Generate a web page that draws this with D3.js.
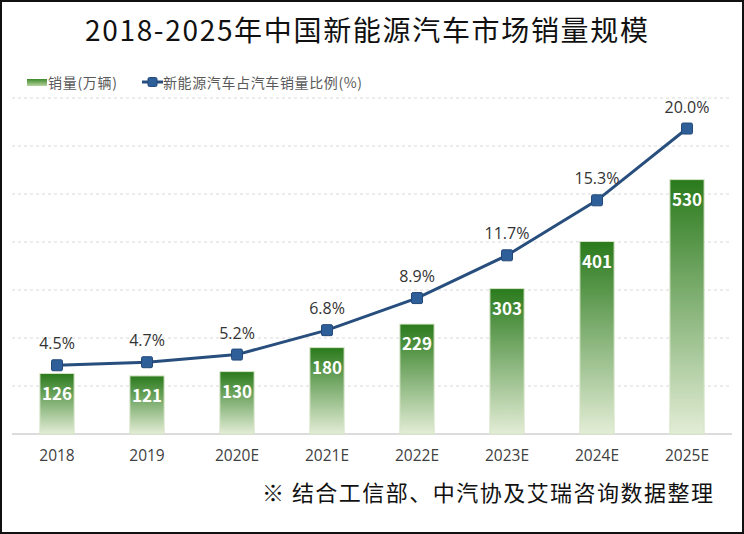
<!DOCTYPE html>
<html><head><meta charset="utf-8">
<script src="https://cdn.jsdelivr.net/npm/d3@7"></script>
<style>body{margin:0;background:#fff;}svg{display:block;}</style>
</head><body>
<svg id="c" width="744" height="534"></svg>
<script>
const categories = ["2018","2019","2020E","2021E","2022E","2023E","2024E","2025E"];
const sales = [126,121,130,180,229,303,401,530];
const share = [4.5,4.7,5.2,6.8,8.9,11.7,15.3,20.0];
const salesTicks = [0,100,200,300,400,500,600,700];
const titleText = "2018-2025年中国新能源汽车市场销量规模";
const legendBar = "销量(万辆)";
const legendLine = "新能源汽车占汽车销量比例(%)";
const sourceText = "※ 结合工信部、中汽协及艾瑞咨询数据整理";

(function(){
const font = "'Noto Sans CJK SC','Noto Sans',sans-serif";
const latin = "'Open Sans','Noto Sans CJK SC',sans-serif";
const svg = d3.select("#c");
const W = 744, H = 534;
const pLeft = 12, pRight = 732, pTop = 98, pBottom = 434;

svg.append("rect").attr("x",1).attr("y",1).attr("width",W-2).attr("height",H-2)
  .attr("fill","#fff").attr("stroke","#111").attr("stroke-width",2);

const defs = svg.append("defs");
const g1 = defs.append("linearGradient").attr("id","bg").attr("x1",0).attr("y1",0).attr("x2",0).attr("y2",1);
g1.append("stop").attr("offset","0%").attr("stop-color","#2a7a1c");
g1.append("stop").attr("offset","100%").attr("stop-color","#e3edd6");
const g2 = defs.append("linearGradient").attr("id","lg").attr("x1",0).attr("y1",0).attr("x2",0).attr("y2",1);
g2.append("stop").attr("offset","0%").attr("stop-color","#3d8a2c");
g2.append("stop").attr("offset","100%").attr("stop-color","#b8d3a0");

const x = d3.scaleBand().domain(categories).range([pLeft,pRight]).paddingInner(0.62).paddingOuter(0.31);
const y = d3.scaleLinear().domain([0,700]).range([pBottom,pTop]);
const y2 = d3.scaleLinear().domain([0,22]).range([pBottom,pTop]);

// gridlines
svg.append("g").selectAll("line").data(salesTicks.slice(1)).join("line")
  .attr("x1",pLeft).attr("x2",pRight).attr("y1",d=>y(d)).attr("y2",d=>y(d))
  .attr("stroke","#d9d9d9").attr("stroke-width",1).attr("stroke-dasharray","3,3");

// x axis
const xAxis = d3.axisBottom(x).tickSize(0).tickPadding(16);
const xa = svg.append("g").attr("transform",`translate(0,${pBottom})`).call(xAxis);
xa.select(".domain").attr("stroke","#d0d0d0").attr("stroke-width",1.5)
  .attr("d",`M${pLeft},0H${pRight}`);
xa.selectAll("text").attr("font-family",latin).attr("font-size",15.5).attr("fill","#404040");

// bars
svg.append("g").selectAll("rect").data(sales).join("rect")
  .attr("x",(d,i)=>x(categories[i])).attr("width",x.bandwidth())
  .attr("y",d=>y(d)).attr("height",d=>pBottom-y(d))
  .attr("fill","url(#bg)").attr("stroke","#d6e4c6").attr("stroke-width",1);

svg.append("g").selectAll("text").data(sales).join("text")
  .attr("x",(d,i)=>x(categories[i])+x.bandwidth()/2).attr("y",d=>y(d)+26)
  .attr("text-anchor","middle").attr("font-family",font).attr("font-weight","bold")
  .attr("font-size",17).attr("fill","#fff").text(d=>d);

// line
const cx = (i)=>x(categories[i])+x.bandwidth()/2;
const line = d3.line().x((d,i)=>cx(i)).y(d=>y2(d));
svg.append("path").datum(share).attr("d",line).attr("fill","none")
  .attr("stroke","#274e7d").attr("stroke-width",3);
svg.append("g").selectAll("rect").data(share).join("rect")
  .attr("x",(d,i)=>cx(i)-5.5).attr("y",d=>y2(d)-5.5).attr("width",11).attr("height",11)
  .attr("rx",1.5).attr("fill","#2f5f98").attr("stroke","#23497a").attr("stroke-width",1);
svg.append("g").selectAll("text").data(share).join("text")
  .attr("x",(d,i)=>cx(i)).attr("y",d=>y2(d)-16)
  .attr("text-anchor","middle").attr("font-family",latin)
  .attr("font-size",16).attr("fill","#333").text(d=>d.toFixed(1)+"%");

// title
svg.append("text").attr("x",85).attr("y",41)
  .attr("font-family",font).attr("font-size",28).attr("fill","#111")
  .attr("textLength",563).attr("lengthAdjust","spacing").text(titleText);

// legend
svg.append("rect").attr("x",27).attr("y",79).attr("width",20).attr("height",7).attr("fill","url(#lg)");
svg.append("text").attr("x",48).attr("y",87.5).attr("font-family",font).attr("font-size",14)
  .attr("fill","#595959").attr("textLength",69).attr("lengthAdjust","spacing").text(legendBar);
svg.append("line").attr("x1",142).attr("x2",163).attr("y1",82).attr("y2",82)
  .attr("stroke","#274e7d").attr("stroke-width",3);
svg.append("rect").attr("x",148).attr("y",77.5).attr("width",9).attr("height",9).attr("rx",1.5)
  .attr("fill","#2f5f98").attr("stroke","#23497a");
svg.append("text").attr("x",163).attr("y",87.5).attr("font-family",font).attr("font-size",14)
  .attr("fill","#595959").attr("textLength",199).attr("lengthAdjust","spacing").text(legendLine);

// source
svg.append("text").attr("x",262).attr("y",501)
  .attr("font-family",font).attr("font-size",22).attr("fill","#111")
  .attr("textLength",451).attr("lengthAdjust","spacing").text(sourceText);
})();
</script>
</body></html>
